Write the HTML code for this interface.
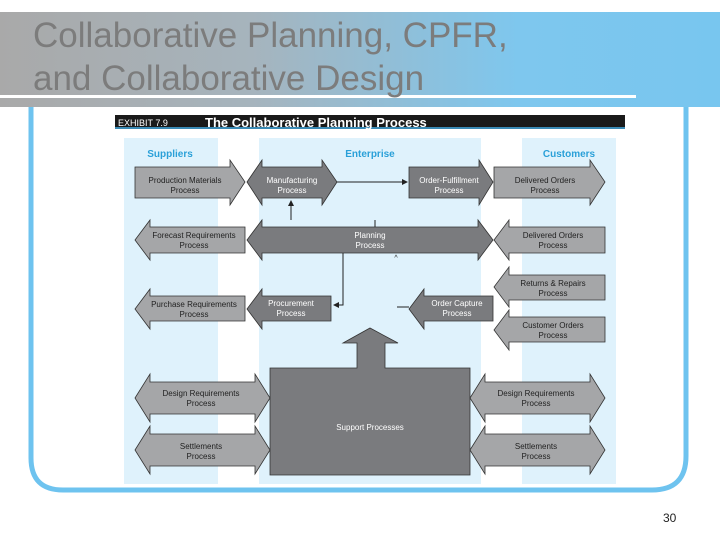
<!DOCTYPE html>
<html><head><style>
html,body{margin:0;padding:0;background:#fff;}
svg{display:block;font-family:"Liberation Sans",sans-serif;}
</style></head><body>
<svg width="720" height="540" viewBox="0 0 720 540" xmlns="http://www.w3.org/2000/svg">
<defs>
<linearGradient id="g" x1="0" x2="1" y1="0" y2="0">
<stop offset="0" stop-color="#a9a9a9"/><stop offset="0.35" stop-color="#a6b4bd"/><stop offset="0.72" stop-color="#7ec7ee"/><stop offset="1" stop-color="#78c6ef"/>
</linearGradient>
<marker id="ah" markerWidth="6" markerHeight="6" refX="5" refY="3" orient="auto"><path d="M0,0 L6,3 L0,6 z" fill="#222"/></marker>
</defs>
<rect x="0" y="12" width="720" height="95" fill="url(#g)"/>
<rect x="0" y="95" width="636" height="3" fill="#fff"/>
<text x="33" y="47" font-size="35" fill="#7c7c7c">Collaborative Planning, CPFR,</text>
<text x="33" y="90" font-size="35" fill="#7c7c7c">and Collaborative Design</text>
<path d="M31,107 V458 Q31,490 63,490 H652 Q686,490 686,456 V107" fill="none" stroke="#6ec3ef" stroke-width="5"/>
<rect x="115" y="115" width="510" height="13" fill="#1a1a1a"/>
<rect x="115" y="127" width="510" height="2" fill="#3a8ab5"/>
<text x="118" y="126" font-size="9" fill="#fff">EXHIBIT 7.9</text>
<text x="205" y="127" font-size="13" font-weight="bold" fill="#fff">The Collaborative Planning Process</text>
<rect x="124" y="138" width="94" height="346" fill="#dff2fc"/>
<rect x="259" y="138" width="222" height="346" fill="#dff2fc"/>
<rect x="522" y="138" width="94" height="346" fill="#dff2fc"/>
<g font-size="10" font-weight="bold" fill="#2aa0d8" text-anchor="middle">
<text x="170" y="157">Suppliers</text><text x="370" y="157">Enterprise</text><text x="569" y="157">Customers</text>
</g>
<g stroke="#333" stroke-width="0.8">
<!-- row1 -->
<path d="M135,167 H230 V160 L245,182 L230,205 V198 H135 Z" fill="#a5a6a8"/>
<path d="M247,182 L262,160 V167 H322 V160 L337,182 L322,205 V198 H262 V205 Z" fill="#7a7b7e"/>
<path d="M409,167 H479 V160 L493,182 L479,205 V198 H409 Z" fill="#7a7b7e"/>
<path d="M494,167 H590 V160 L605,182 L590,205 V198 H494 Z" fill="#a5a6a8"/>
<!-- row2 -->
<path d="M135,240 L150,220 V227 H245 V253 H150 V260 Z" fill="#a5a6a8"/>
<path d="M247,240 L262,220 V227 H478 V220 L493,240 L478,260 V253 H262 V260 Z" fill="#7a7b7e"/>
<path d="M494,240 L509,220 V227 H605 V253 H509 V260 Z" fill="#a5a6a8"/>
<!-- row3 -->
<path d="M494,287 L509,267 V275 H605 V300 H509 V307 Z" fill="#a5a6a8"/>
<path d="M135,309 L150,289 V296 H245 V321 H150 V329 Z" fill="#a5a6a8"/>
<path d="M247,309 L262,289 V296 H331 V321 H262 V329 Z" fill="#7a7b7e"/>
<path d="M409,309 L424,289 V296 H493 V321 H424 V329 Z" fill="#7a7b7e"/>
<path d="M494,330 L509,310 V317 H605 V342 H509 V350 Z" fill="#a5a6a8"/>
<!-- support -->
<path d="M270,368 H357 V343 H343 L370,328 L398,343 H385 V368 H470 V475 H270 Z" fill="#7a7b7e"/>
<path d="M135,398 L150,374 V382 H255 V374 L270,398 L255,422 V414 H150 V422 Z" fill="#a5a6a8"/>
<path d="M470,398 L485,374 V382 H590 V374 L605,398 L590,422 V414 H485 V422 Z" fill="#a5a6a8"/>
<path d="M135,450 L150,426 V434 H255 V426 L270,450 L255,474 V466 H150 V474 Z" fill="#a5a6a8"/>
<path d="M470,450 L485,426 V434 H590 V426 L605,450 L590,474 V466 H485 V474 Z" fill="#a5a6a8"/>
</g>
<g stroke="#222" stroke-width="1" fill="none">
<line x1="337" y1="182" x2="407" y2="182" marker-end="url(#ah)"/>
<line x1="291" y1="220" x2="291" y2="201" marker-end="url(#ah)"/>
<line x1="375" y1="220" x2="375" y2="227"/>
<path d="M343,253 V305 H334" marker-end="url(#ah)"/>
<line x1="397" y1="307" x2="409" y2="307"/>
</g>
<text x="396" y="260" font-size="7" fill="#222" text-anchor="middle">^</text>
<g font-size="8" fill="#fff" text-anchor="middle">
<text x="292" y="183">Manufacturing</text><text x="292" y="193">Process</text>
<text x="449" y="183">Order-Fulfillment</text><text x="449" y="193">Process</text>
<text x="370" y="238">Planning</text><text x="370" y="248">Process</text>
<text x="291" y="306">Procurement</text><text x="291" y="316">Process</text>
<text x="457" y="306">Order Capture</text><text x="457" y="316">Process</text>
<text x="370" y="430">Support Processes</text>
</g>
<g font-size="8" fill="#222" text-anchor="middle">
<text x="185" y="183">Production Materials</text><text x="185" y="193">Process</text>
<text x="545" y="183">Delivered Orders</text><text x="545" y="193">Process</text>
<text x="194" y="238">Forecast Requirements</text><text x="194" y="248">Process</text>
<text x="553" y="238">Delivered Orders</text><text x="553" y="248">Process</text>
<text x="553" y="286">Returns &amp; Repairs</text><text x="553" y="296">Process</text>
<text x="194" y="307">Purchase Requirements</text><text x="194" y="317">Process</text>
<text x="553" y="328">Customer Orders</text><text x="553" y="338">Process</text>
<text x="201" y="396">Design Requirements</text><text x="201" y="406">Process</text>
<text x="536" y="396">Design Requirements</text><text x="536" y="406">Process</text>
<text x="201" y="449">Settlements</text><text x="201" y="459">Process</text>
<text x="536" y="449">Settlements</text><text x="536" y="459">Process</text>
</g>
<text x="663" y="522" font-size="12" fill="#222">30</text>
</svg>
</body></html>
